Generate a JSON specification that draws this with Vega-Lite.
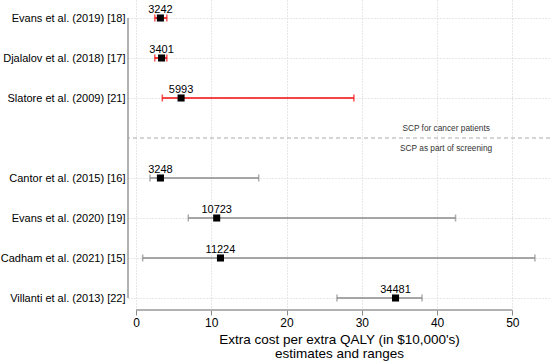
{
  "$schema": "https://vega.github.io/schema/vega-lite/v6.json",
  "width": 422,
  "height": 310,
  "autosize": {"type": "none"},
  "padding": {"left": 128, "top": 0, "right": 0, "bottom": 54},
  "config": {"font": "Liberation Sans", "view": {"stroke": null}},
  "datasets": {
    "studies": [
      {"study": "Evans et al. (2019) [18]", "row": 1, "group": "cancer", "est": 3.242, "low": 2.5, "high": 4.1, "label": "3242"},
      {"study": "Djalalov et al. (2018) [17]", "row": 2, "group": "cancer", "est": 3.401, "low": 2.5, "high": 4.1, "label": "3401"},
      {"study": "Slatore et al. (2009) [21]", "row": 3, "group": "cancer", "est": 5.993, "low": 3.5, "high": 28.95, "label": "5993"},
      {"study": "Cantor et al. (2015) [16]", "row": 5, "group": "screening", "est": 3.248, "low": 1.86, "high": 16.3, "label": "3248"},
      {"study": "Evans et al. (2020) [19]", "row": 6, "group": "screening", "est": 10.723, "low": 6.95, "high": 42.45, "label": "10723"},
      {"study": "Cadham et al. (2021) [15]", "row": 7, "group": "screening", "est": 11.224, "low": 0.89, "high": 53.0, "label": "11224"},
      {"study": "Villanti et al. (2013) [22]", "row": 8, "group": "screening", "est": 34.481, "low": 26.7, "high": 38.0, "label": "34481"}
    ],
    "sections": [
      {"text": "SCP for cancer patients", "x": 41.2, "row": 3.77},
      {"text": "SCP as part of screening", "x": 41.2, "row": 4.27}
    ]
  },
  "data": {"name": "studies"},
  "layer": [
    {
      "mark": {"type": "rule", "strokeWidth": 1.6},
      "encoding": {
        "x": {
          "field": "low", "type": "quantitative",
          "scale": {"domain": [-1.06, 55], "nice": false, "zero": false},
          "axis": {
            "values": [0, 10, 20, 30, 40, 50], "format": "d",
            "domain": false, "tickSize": 5, "tickColor": "#888888", "tickWidth": 1,
            "labelFontSize": 12, "labelPadding": 2, "labelColor": "#000000",
            "title": ["Extra cost per extra QALY (in $10,000's)", "estimates and ranges"],
            "titleFontSize": 13.5, "titleFontWeight": "normal", "titleColor": "#000000", "titlePadding": 4, "titleLineHeight": 14,
            "grid": true, "gridDash": [1, 2], "gridColor": "#cfcfcf"
          }
        },
        "x2": {"field": "high"},
        "y": {
          "field": "row", "type": "quantitative",
          "scale": {"domain": [0.55, 8.3], "reverse": true, "nice": false, "zero": false},
          "axis": {
            "values": [1, 2, 3, 5, 6, 7, 8],
            "labelExpr": "datum.value==1?'Evans et al. (2019) [18]':datum.value==2?'Djalalov et al. (2018) [17]':datum.value==3?'Slatore et al. (2009) [21]':datum.value==5?'Cantor et al. (2015) [16]':datum.value==6?'Evans et al. (2020) [19]':datum.value==7?'Cadham et al. (2021) [15]':'Villanti et al. (2013) [22]'",
            "domain": false, "ticks": false, "labelPadding": 3, "labelFontSize": 11, "labelColor": "#000000",
            "title": null, "grid": true, "gridDash": [1, 2], "gridColor": "#cfcfcf"
          }
        },
        "color": {"field": "group", "type": "nominal", "scale": {"domain": ["cancer", "screening"], "range": ["#f20a0a", "#8a8a8a"]}, "legend": null}
      }
    },
    {
      "mark": {"type": "tick", "orient": "vertical", "size": 7, "thickness": 1.5},
      "encoding": {
        "x": {"field": "low", "type": "quantitative"},
        "y": {"field": "row", "type": "quantitative"},
        "color": {"field": "group", "type": "nominal", "legend": null}
      }
    },
    {
      "mark": {"type": "tick", "orient": "vertical", "size": 7, "thickness": 1.5},
      "encoding": {
        "x": {"field": "high", "type": "quantitative"},
        "y": {"field": "row", "type": "quantitative"},
        "color": {"field": "group", "type": "nominal", "legend": null}
      }
    },
    {
      "mark": {"type": "point", "shape": "square", "filled": true, "color": "#000000", "size": 50, "opacity": 1},
      "encoding": {
        "x": {"field": "est", "type": "quantitative"},
        "y": {"field": "row", "type": "quantitative"}
      }
    },
    {
      "mark": {"type": "text", "fontSize": 11, "baseline": "alphabetic", "align": "center", "dy": -5, "color": "#000000"},
      "encoding": {
        "x": {"field": "est", "type": "quantitative"},
        "y": {"field": "row", "type": "quantitative"},
        "text": {"field": "label"}
      }
    },
    {
      "data": {"values": [{}]},
      "mark": {"type": "rule", "color": "#999999", "strokeWidth": 1.5},
      "encoding": {
        "x": {"datum": -1.06, "type": "quantitative"},
        "y": {"datum": 1, "type": "quantitative"},
        "y2": {"datum": 8}
      }
    },
    {
      "data": {"values": [{}]},
      "mark": {"type": "rule", "color": "#999999", "strokeWidth": 1.5},
      "encoding": {
        "x": {"datum": 0, "type": "quantitative"},
        "x2": {"datum": 50},
        "y": {"datum": 8.3, "type": "quantitative"}
      }
    },
    {
      "data": {"values": [{}]},
      "mark": {"type": "rule", "color": "#aaaaaa", "strokeWidth": 1, "strokeDash": [4, 3]},
      "encoding": {
        "y": {"datum": 4, "type": "quantitative"}
      }
    },
    {
      "data": {"name": "sections"},
      "mark": {"type": "text", "fontSize": 8.3, "align": "center", "baseline": "middle", "color": "#333333"},
      "encoding": {
        "x": {"field": "x", "type": "quantitative"},
        "y": {"field": "row", "type": "quantitative"},
        "text": {"field": "text"}
      }
    }
  ]
}
